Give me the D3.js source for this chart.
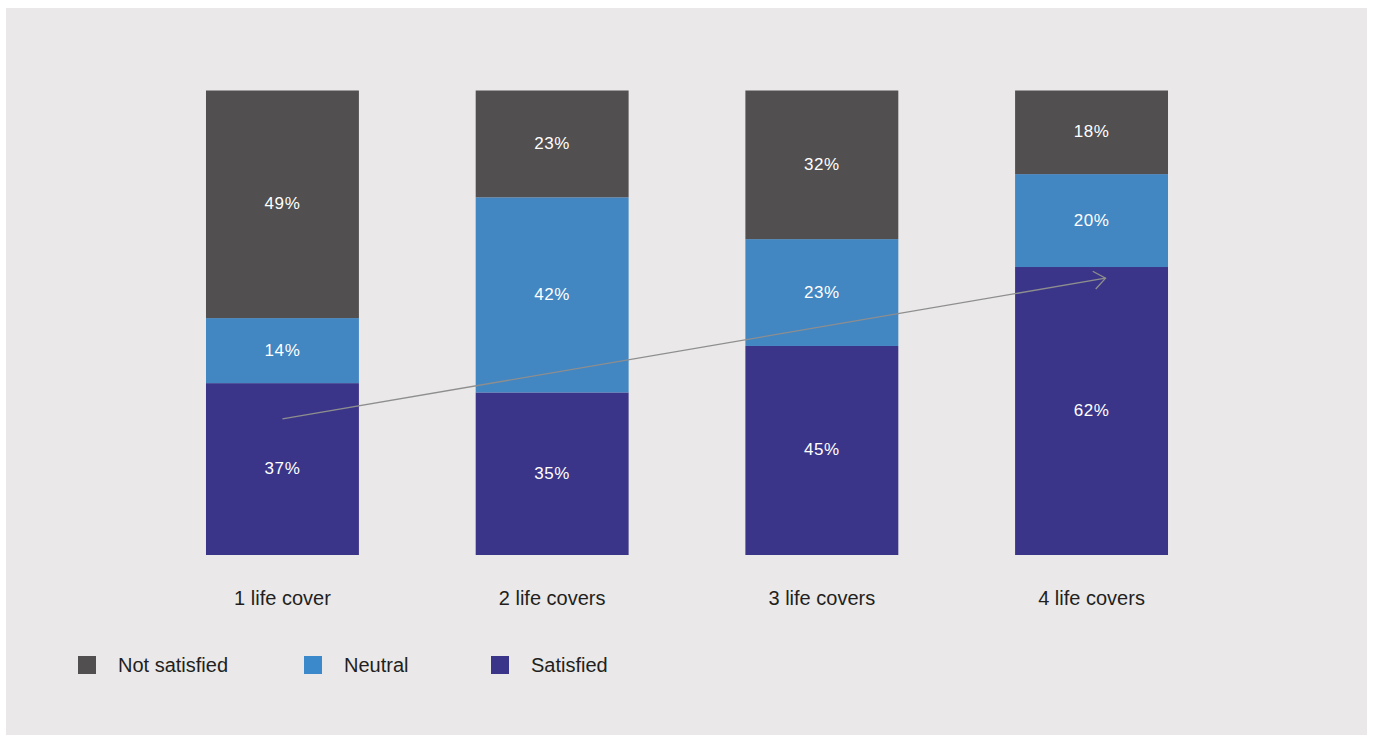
<!DOCTYPE html>
<html>
<head>
<meta charset="utf-8">
<script src="https://cdn.jsdelivr.net/npm/d3@7"></script>
<style>
  html, body { margin: 0; padding: 0; background: #ffffff; }
  svg { display: block; }
</style>
</head>
<body>
<svg id="chart" width="1375" height="735"></svg>
<script>
// Satisfaction by number of life covers held (percent of respondents)
const categories = ["1 life cover", "2 life covers", "3 life covers", "4 life covers"];
const seriesNames = ["Satisfied", "Neutral", "Not satisfied"];
const satisfied    = [37, 35, 45, 62];
const neutral      = [14, 42, 23, 20];
const notSatisfied = [49, 23, 32, 18];
const legendOrder  = ["Not satisfied", "Neutral", "Satisfied"];
// Trend arrow across the satisfied segments: [category, value] at each end
const trendStart = [categories[0], 29.3];
const trendEnd   = [categories[3], 59.6];

const colors = {
  "Not satisfied": "#514f50",
  "Neutral": "#4286c2",
  "Satisfied": "#3a3588"
};

const rows = categories.map((c, i) => ({
  category: c,
  "Satisfied": satisfied[i],
  "Neutral": neutral[i],
  "Not satisfied": notSatisfied[i]
}));

const svg = d3.select("#chart");

// background panel
svg.append("rect")
  .attr("x", 6).attr("y", 8)
  .attr("width", 1361).attr("height", 727)
  .attr("fill", "#eae8e9");

const x = d3.scaleBand()
  .domain(categories)
  .range([147.6, 1226.4])
  .paddingInner(0.433)
  .paddingOuter(0.2165);

const y = d3.scaleLinear()
  .domain([0, 100])
  .range([555, 90.5]);

const stack = d3.stack().keys(seriesNames);
const layers = stack(rows);

const g = svg.append("g");

const layer = g.selectAll("g.layer")
  .data(layers)
  .join("g")
  .attr("class", "layer")
  .attr("fill", d => colors[d.key]);

layer.selectAll("rect")
  .data(d => d)
  .join("rect")
  .attr("x", d => x(d.data.category))
  .attr("width", x.bandwidth())
  .attr("y", d => y(d[1]))
  .attr("height", d => y(d[0]) - y(d[1]));

// value labels
layer.selectAll("text")
  .data(d => d.map(s => ({ s, key: d.key })))
  .join("text")
  .attr("x", d => x(d.s.data.category) + x.bandwidth() / 2)
  .attr("y", d => (y(d.s[0]) + y(d.s[1])) / 2 + 5)
  .attr("text-anchor", "middle")
  .attr("fill", "#ffffff")
  .attr("font-family", "'Liberation Sans', Arial, sans-serif")
  .attr("font-size", 17)
  .attr("letter-spacing", 0.6)
  .text(d => d.s.data[d.key] + "%");

// trend arrow
const ax0 = x(trendStart[0]) + x.bandwidth() / 2;
const ay0 = y(trendStart[1]);
const ax1 = x(trendEnd[0]) + x.bandwidth() / 2 + 14;
const ay1 = y(trendEnd[1]);

const defs = svg.append("defs");
defs.append("marker")
  .attr("id", "chev")
  .attr("viewBox", "0 0 14 20")
  .attr("refX", 12.5).attr("refY", 10)
  .attr("markerWidth", 14).attr("markerHeight", 20)
  .attr("markerUnits", "userSpaceOnUse")
  .attr("orient", "auto")
  .append("path")
  .attr("d", "M1,1 L12.5,10 L1,19")
  .attr("fill", "none")
  .attr("stroke", "#8e8e8e")
  .attr("stroke-width", 1.3);

svg.append("line")
  .attr("x1", ax0).attr("y1", ay0)
  .attr("x2", ax1).attr("y2", ay1)
  .attr("stroke", "#8e8e8e")
  .attr("stroke-width", 1.3)
  .attr("marker-end", "url(#chev)");

// category labels
svg.append("g")
  .selectAll("text")
  .data(categories)
  .join("text")
  .attr("x", d => x(d) + x.bandwidth() / 2)
  .attr("y", 605)
  .attr("text-anchor", "middle")
  .attr("fill", "#231f20")
  .attr("font-family", "'Liberation Sans', Arial, sans-serif")
  .attr("font-size", 20)
  .text(d => d);

// legend: swatch followed by its label, laid out left to right
const legendLeft = [78, 304, 491];

const legend = svg.append("g")
  .selectAll("g")
  .data(legendOrder)
  .join("g")
  .attr("transform", (d, i) => `translate(${legendLeft[i]},656)`);

legend.append("rect")
  .attr("width", 18).attr("height", 18)
  .attr("fill", d => d === "Neutral" ? "#3b88ca" : colors[d]);

legend.append("text")
  .attr("x", 40)
  .attr("y", 16)
  .attr("fill", "#231f20")
  .attr("font-family", "'Liberation Sans', Arial, sans-serif")
  .attr("font-size", 20)
  .text(d => d);
</script>
</body>
</html>
